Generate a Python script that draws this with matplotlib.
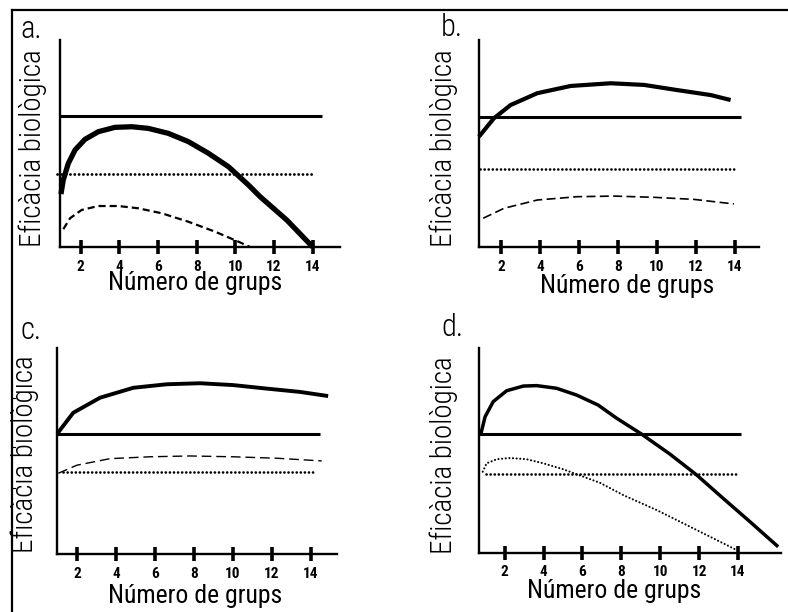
import matplotlib
matplotlib.use("Agg")
import matplotlib.pyplot as plt
from matplotlib.lines import Line2D

plt.rcParams['font.family'] = ['Roboto Condensed', 'DejaVu Sans']

W, H = 788, 612

# ---- data -------------------------------------------------------------
group_ticks = [2, 4, 6, 8, 10, 12, 14]
tick_labels = ['2', '4', '6', '8', '10', '12', '14']
panel_letters = ['a.', 'b.', 'c.', 'd.']
xlabel_text = 'Número de grups'
ylabel_text = 'Eficàcia biològica'

# panel a
a_solid = 63.4
a_dotted = 35.3
a_thick_x = [0.98, 1.10, 1.36, 1.71, 2.22, 2.91, 3.77, 4.64, 5.50, 6.53, 7.57,
             8.60, 9.64, 10.67, 11.28, 12.66, 14.0]
a_thick_y = [25.6, 32.4, 40.4, 46.9, 52.0, 55.7, 57.8, 58.1, 57.3, 54.9, 50.9,
             45.3, 38.8, 30.0, 24.3, 13.0, 0.0]
a_dash_x = [1.10, 1.45, 2.05, 2.91, 3.95, 4.98, 6.19, 7.57, 8.95, 10.15, 10.76]
a_dash_y = [8.6, 13.9, 17.9, 19.8, 19.8, 18.7, 16.3, 12.2, 7.4, 2.6, 0.0]

# panel b
b_solid = 62.7
b_dotted = 37.5
b_thick_x = [0.85, 1.62, 2.48, 3.85, 5.57, 7.62, 9.34, 11.05, 12.77, 13.79]
b_thick_y = [53.3, 62.2, 68.6, 74.3, 77.8, 79.1, 78.3, 75.8, 73.4, 71.0]
b_dash_x = [1.07, 2.14, 3.85, 5.91, 7.79, 9.85, 11.91, 13.96]
b_dash_y = [13.9, 18.7, 22.7, 24.3, 24.6, 24.0, 23.0, 20.8]

# panel c
c_solid = 58.1
c_dotted = 40.0
c_thick_x = [0.97, 1.79, 3.17, 4.88, 6.60, 8.31, 10.02, 11.74, 13.45, 14.9]
c_thick_y = [58.4, 68.5, 75.8, 80.6, 82.3, 82.8, 81.9, 80.2, 78.6, 76.6]
c_dash_x = [1.02, 1.97, 3.68, 5.74, 7.79, 10.02, 12.25, 14.57]
c_dash_y = [39.2, 43.1, 46.3, 47.2, 47.6, 47.2, 46.5, 45.2]

# panel d
d_solid = 57.8
d_dotted = 38.2
d_thick_x = [0.78, 0.99, 1.41, 2.10, 2.96, 3.65, 4.67, 5.70, 6.81, 7.76, 9.05,
             10.50, 11.88, 13.24, 14.62, 16.07]
d_thick_y = [58.2, 66.3, 73.7, 79.0, 81.3, 81.5, 80.2, 76.9, 72.0, 65.6, 57.8,
             48.1, 37.9, 26.5, 15.1, 2.9]
d_dot_x = [0.87, 1.07, 1.59, 2.27, 3.13, 3.99, 5.01, 6.04, 6.90, 8.10, 9.82,
           11.53, 13.24, 13.93]
d_dot_y = [39.5, 43.6, 45.6, 46.2, 45.6, 43.6, 40.7, 37.1, 34.1, 28.1, 20.8,
           12.7, 4.6, 1.3]

# ---- layout helpers ---------------------------------------------------
def fx(x):
    return x / W

def fy(y):
    return 1 - y / H

fig = plt.figure(figsize=(W / 100, H / 100), dpi=100)
fig.patch.set_facecolor('white')

def make_axes(left, right, bottom, top, xlim):
    ax = fig.add_axes([fx(left), fy(bottom), fx(right) - fx(left), fy(top) - fy(bottom)])
    ax.set_xlim(*xlim)
    ax.set_ylim(0, 100)
    ax.patch.set_alpha(0)
    for s in ('top', 'right'):
        ax.spines[s].set_visible(False)
    for s in ('left', 'bottom'):
        ax.spines[s].set_linewidth(1.7)
        ax.spines[s].set_color('black')
    ax.set_yticks([])
    ax.set_xticks(group_ticks)
    ax.set_xticklabels(tick_labels, fontweight='bold')
    ax.tick_params(axis='x', direction='inout', length=9.5, width=2.6,
                   labelsize=11, pad=4.3, color='black')
    return ax

def hline(ax, y, x0, x1, lw, dotted=False):
    if dotted:
        ax.plot([x0, x1], [y, y], color='black', lw=lw, clip_on=False,
                linestyle=(0, (0.05, 1.5)), dash_capstyle='round')
    else:
        ax.plot([x0, x1], [y, y], color='black', lw=lw, clip_on=False,
                solid_capstyle='butt')

def curve(ax, xs, ys, lw, ls='-', capstyle='butt'):
    ax.plot(xs, ys, color='black', lw=lw, clip_on=False, linestyle=ls,
            solid_capstyle='butt', solid_joinstyle='round',
            dash_capstyle=capstyle)

# panel a
ax_a = make_axes(60, 340, 247, 40, (0.93, 15.41))
hline(ax_a, a_solid, 0.93, 14.47, 2.2)
hline(ax_a, a_dotted, 0.80, 14.0, 2.0, dotted=True)
curve(ax_a, a_thick_x, a_thick_y, 3.8)
curve(ax_a, a_dash_x, a_dash_y, 1.6, ls=(0, (3.2, 1.8)))

# panel b
ax_b = make_axes(479, 759, 247, 40, (0.853, 15.25))
hline(ax_b, b_solid, 0.853, 14.31, 2.2)
hline(ax_b, b_dotted, 0.9, 14.0, 1.9, dotted=True)
curve(ax_b, b_thick_x, b_thick_y, 3.0)
curve(ax_b, b_dash_x, b_dash_y, 1.2, ls=(0, (5.4, 2.6)))

# panel c
ax_c = make_axes(56.7, 336.7, 554.3, 347.7, (0.94, 15.34))
hline(ax_c, c_solid, 0.94, 14.48, 2.2)
hline(ax_c, c_dotted, 1.28, 14.27, 1.9, dotted=True)
curve(ax_c, c_thick_x, c_thick_y, 2.8)
curve(ax_c, c_dash_x, c_dash_y, 1.0, ls=(0, (7.0, 3.5)))

# panel d
ax_d = make_axes(479, 780.7, 552.7, 347.7, (0.678, 16.2))
hline(ax_d, d_solid, 0.678, 14.14, 2.2)
hline(ax_d, d_dotted, 1.02, 13.96, 1.9, dotted=True)
curve(ax_d, d_thick_x, d_thick_y, 2.5)
curve(ax_d, d_dot_x, d_dot_y, 1.5, ls=(0, (0.05, 1.7)), capstyle='round')

# ---- text -------------------------------------------------------------
letter_pos = [(20, 38), (441, 36), (20, 339), (441, 336)]
for (x, y), t in zip(letter_pos, panel_letters):
    fig.text(fx(x), fy(y), t, fontsize=22, ha='left', va='baseline',
             fontweight='light')

xlabel_pos = [(195, 290), (627, 293), (195, 603), (614, 598)]
for x, y in xlabel_pos:
    fig.text(fx(x), fy(y), xlabel_text, fontsize=18.5, ha='center',
             va='baseline')

ylabel_pos = [(33, 247), (444, 247), (25, 553), (444, 554)]
for x, y in ylabel_pos:
    fig.text(fx(x), fy(y), ylabel_text, fontsize=21, rotation=90,
             ha='center', va='bottom', fontweight='light')

# ---- frame lines ------------------------------------------------------
fig.add_artist(Line2D([fx(12), fx(788)], [fy(10), fy(10)], color='black', lw=1.6))
fig.add_artist(Line2D([fx(12), fx(12)], [fy(10), fy(612)], color='black', lw=1.6))
for y in (398, 447, 488):
    fig.add_artist(Line2D([fx(12), fx(15)], [fy(y), fy(y)], color='black', lw=0.8))

fig.savefig('out.png', dpi=100, facecolor='white')
